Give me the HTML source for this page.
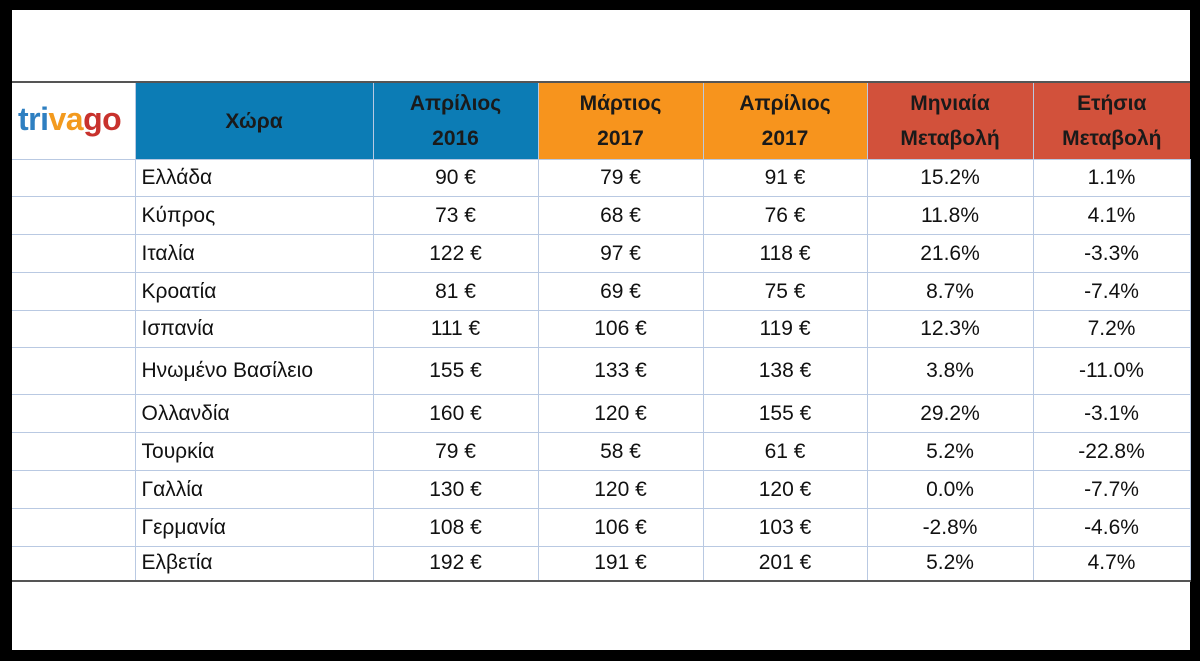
<!DOCTYPE html>
<html><head><meta charset="utf-8"><style>
html,body{margin:0;padding:0;background:#000;}
.page{position:absolute;left:12px;top:10px;width:1178px;height:640px;background:#fff;}
table{position:absolute;left:0;top:71px;border-collapse:collapse;font-family:"Liberation Sans","DejaVu Sans",sans-serif;color:#111;table-layout:fixed;width:1178px;}
td,th{border:1px solid #b9c9e2;padding:0;font-size:21px;}
th{font-weight:bold;font-size:21px;line-height:35px;color:#1a1a1a;}
tr.h th{height:76px;}
tr.top{border-top:2px solid #555;}
td{text-align:center;}
td.c{text-align:left;padding-left:6px;}
td.l{border-left:none;}
.b{background:#0c7cb5;}.o{background:#f7941d;}.r{background:#d2513b;}
</style></head><body><div class="page">
<table>
<colgroup><col style="width:123px"><col style="width:238px"><col style="width:165px"><col style="width:165px"><col style="width:164px"><col style="width:166px"><col style="width:157px"></colgroup>
<tr class="h top"><th style="background:#fff;border-left:none;text-align:left;padding-left:6px"><span style="font-size:32px;font-weight:bold;letter-spacing:-0.5px"><span style="color:#2e7fc1">tri</span><span style="color:#f39a1e">va</span><span style="color:#c8322d">go</span></span></th>
<th class="b">Χώρα</th><th class="b">Απρίλιος<br>2016</th><th class="o">Μάρτιος<br>2017</th><th class="o">Απρίλιος<br>2017</th><th class="r">Μηνιαία<br>Μεταβολή</th><th class="r" style="border-right:none">Ετήσια<br>Μεταβολή</th></tr>
<tr style="height:37px"><td class="l"></td><td class="c">Ελλάδα</td><td>90 €</td><td>79 €</td><td>91 €</td><td>15.2%</td><td>1.1%</td></tr>
<tr style="height:38px"><td class="l"></td><td class="c">Κύπρος</td><td>73 €</td><td>68 €</td><td>76 €</td><td>11.8%</td><td>4.1%</td></tr>
<tr style="height:38px"><td class="l"></td><td class="c">Ιταλία</td><td>122 €</td><td>97 €</td><td>118 €</td><td>21.6%</td><td>-3.3%</td></tr>
<tr style="height:38px"><td class="l"></td><td class="c">Κροατία</td><td>81 €</td><td>69 €</td><td>75 €</td><td>8.7%</td><td>-7.4%</td></tr>
<tr style="height:37px"><td class="l"></td><td class="c">Ισπανία</td><td>111 €</td><td>106 €</td><td>119 €</td><td>12.3%</td><td>7.2%</td></tr>
<tr style="height:47px"><td class="l"></td><td class="c">Ηνωμένο Βασίλειο</td><td>155 €</td><td>133 €</td><td>138 €</td><td>3.8%</td><td>-11.0%</td></tr>
<tr style="height:38px"><td class="l"></td><td class="c">Ολλανδία</td><td>160 €</td><td>120 €</td><td>155 €</td><td>29.2%</td><td>-3.1%</td></tr>
<tr style="height:38px"><td class="l"></td><td class="c">Τουρκία</td><td>79 €</td><td>58 €</td><td>61 €</td><td>5.2%</td><td>-22.8%</td></tr>
<tr style="height:38px"><td class="l"></td><td class="c">Γαλλία</td><td>130 €</td><td>120 €</td><td>120 €</td><td>0.0%</td><td>-7.7%</td></tr>
<tr style="height:38px"><td class="l"></td><td class="c">Γερμανία</td><td>108 €</td><td>106 €</td><td>103 €</td><td>-2.8%</td><td>-4.6%</td></tr>
<tr style="height:34px;border-bottom:2px solid #555"><td class="l"></td><td class="c">Ελβετία</td><td>192 €</td><td>191 €</td><td>201 €</td><td>5.2%</td><td>4.7%</td></tr>
</table></div></body></html>
